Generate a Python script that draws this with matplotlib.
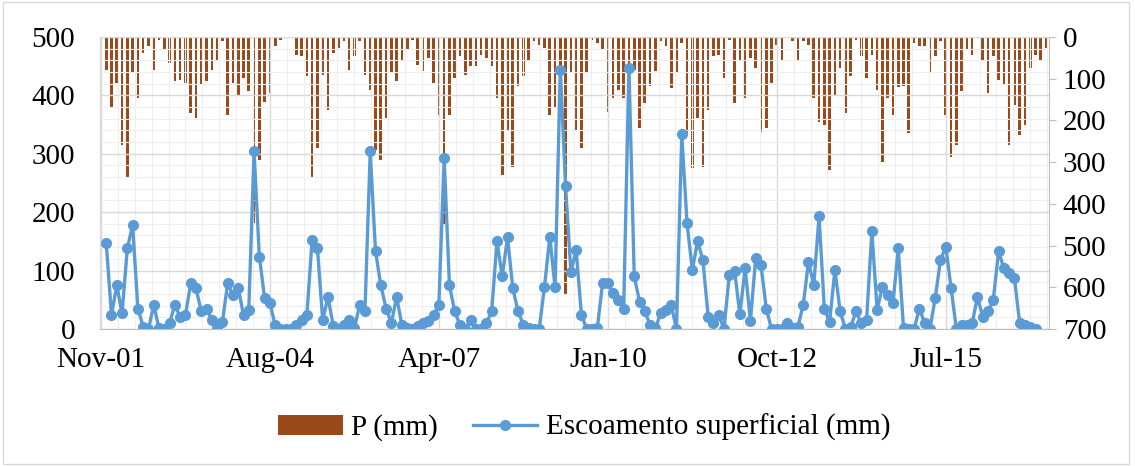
import numpy as np
import matplotlib.pyplot as plt
from matplotlib.ticker import MultipleLocator
from matplotlib.patches import Rectangle

nan = np.nan

# Monthly rainfall P (mm) (right axis, inverted)
p_mm = [279, 79, 171, 111, 259, 335, 87, 147, 39, 23, 79, 7, 31, 63, 107, 103, 111, 183, 195, 115,
        107, 79, 59, 11, 187, 111, 139, 99, 131, 446,
        295, 155, 135, 23, 7, 3, 3, 43, 47, 95, 335, 267, 91, 175, 39, 27, 11, 79, 47, 11,
        91, 127, 271, 295, 195, 87, 107, 55, 31, 7, 67,
        83, 51, 111, 187, 451, 187, 99, 47, 91, 71, 71, 43, 51, 71, 147, 331, 223, 311, 119,
        95, 55, 11, 19, 27, 187, 167, 115, 619, 87, 223,
        267, 87, 7, 15, 31, 179, 147, 127, 147, 71, 79, 219, 159, 119, 83, 11, 23, 123, 87, 15,
        231, 315, 195, 311, 175, 47, 43, 99, 7, 159,
        59, 147, 51, 75, 227, 219, 111, 19, 55, 3, 11, 55, 11, 19, 147, 203, 211, 319, 139, 75,
        183, 95, 7, 47, 99, 43, 127, 299, 147, 187, 120,
        119, 231, 15, 23, 23, 87, 47, 11, 187, 287, 259, 131, 31, 43, 3, 55, 135, 47, 103, 115,
        259, 163, 235, 211, 75, 43, 59, 27]

# Surface runoff (mm), left axis
runoff = [nan,
          147, 24, 75, 27, 138, 178, 35, 4, 0, 41, 1, 0, 10, 41, 21, 24, 78, 70, 30, 35,
          15, 1, 12, 78, 58, 70, 24, 33, 304,
          124, 53, 44, 7, 0, 0, 0, 7, 15, 24, 153, 138, 15, 55, 5, 0, 7, 15, 1, 41,
          30, 304, 133, 75, 35, 10, 55, 7, 1, 0,
          5, 10, 14, 24, 41, 293,
          75, 30, 7, 0, 15, 0, 0, 10, 30, 150, 90, 157, 70, 30, 7, 1, 0, 0, 72, 158, 72, 444,
          244, 98, 135, 24, 0, 0, 1, 78, 78, 61, 50, 35, 447,
          90, 47, 30, 7, 1, 27, 33, 41, 0, 333,
          181, 101, 150, 118, 21, 10, 24, 0, 93, 100, 25, 104, 14, 121, 110, 35, 0, 0, 0, 10,
          1, 4, 41, 115, 75, 193,
          35, 12, 101, 30, 0, 4, 30, 10, 15, 167,
          33, 72, 58, 44, 138,
          1, 0, 0, 35, 10, 0, 53, 118, 141, 70, 0, 7, 7, 10, 55, 21, 30, 50, 133, 104,
          95, 87, 10, 7, 4, 0,
          nan, nan]

tick_pos = [0, 32, 64, 96, 128, 160]
tick_labels = ['Nov-01', 'Aug-04', 'Apr-07', 'Jan-10', 'Oct-12', 'Jul-15']

plt.rcParams['font.family'] = ['Liberation Serif', 'DejaVu Serif']
fs = 21

x = np.arange(len(p_mm))

fig = plt.figure(figsize=(11.35, 4.66), dpi=100)
ax = fig.add_axes([0.088, 0.294, 0.836, 0.627])
axr = ax.twinx()
axr.set_zorder(0)
ax.set_zorder(1)
ax.patch.set_visible(False)

bars = axr.bar(x, p_mm, width=0.5, color='#9A4A1A', label='P (mm)')
axr.set_ylim(700, 0)
axr.set_yticks(range(0, 701, 100))

line, = ax.plot(np.arange(len(runoff)), runoff, color='#5B9BD5', lw=2.4, marker='o', ms=7,
                label='Escoamento superficial (mm)')
ax.set_ylim(0, 500)
ax.set_yticks(range(0, 501, 100))
ax.set_xlim(-0.2, 179.5)
ax.set_xticks(tick_pos, tick_labels)
ax.xaxis.set_minor_locator(MultipleLocator(3.2))
ax.yaxis.set_minor_locator(MultipleLocator(20))
ax.grid(which='major', color='#D9D9D9', lw=1)
ax.grid(which='minor', color='#EEEEEE', lw=0.8)
ax.tick_params(which='both', length=0, labelsize=fs)
ax.tick_params(axis='y', pad=18)
ax.tick_params(axis='x', pad=13)

for s in ['top', 'right']:
    ax.spines[s].set_visible(False)
    axr.spines[s if s == 'top' else 'left'].set_visible(False)
ax.spines['left'].set_color('#D9D9D9')
ax.spines['bottom'].set_color('#BFBFBF')
axr.spines['bottom'].set_visible(False)
axr.spines['right'].set_color('#BFBFBF')
axr.tick_params(axis='y', direction='out', length=5, color='#BFBFBF', labelsize=fs, pad=5)

fig.legend([bars, line], ['P (mm)', 'Escoamento superficial (mm)'], loc='center',
           bbox_to_anchor=(0.515, 0.082), ncol=2, frameon=False, fontsize=fs,
           handlelength=2.2, columnspacing=1.2, handletextpad=0.3)

fig.add_artist(Rectangle((0.003, 0.005), 0.992, 0.99, transform=fig.transFigure,
                         fill=False, edgecolor='#D9D9D9', lw=1))

fig.savefig('out.png', dpi=100)
